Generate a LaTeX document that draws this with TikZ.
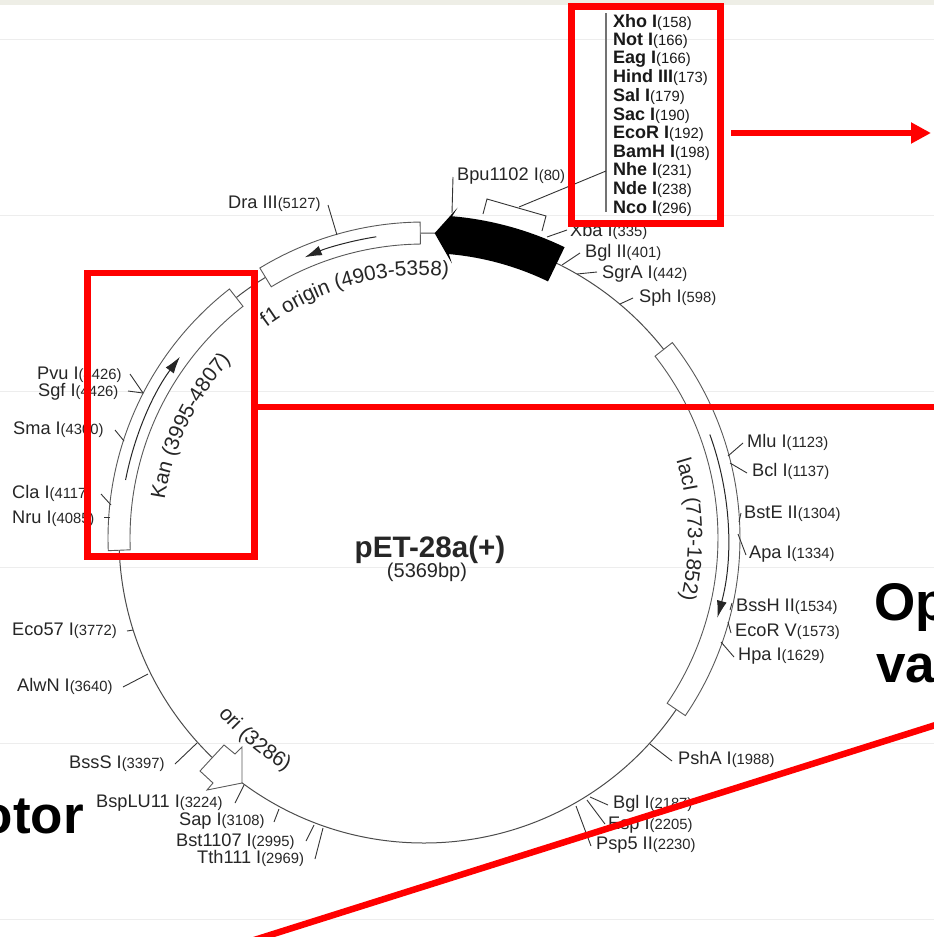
\documentclass[tikz,border=0pt]{standalone}
\usepackage{fontspec}
\setmainfont{Liberation Sans}
\usetikzlibrary{arrows.meta,decorations.text}
\definecolor{pagered}{RGB}{255,0,0}
\definecolor{bandgrey}{RGB}{238,238,230}
\newcommand{\enz}[2]{#1{\mdseries\fontsize{14.8}{15}\selectfont(#2)}}
\newcommand{\arclabel}{\fontsize{20.8}{21}\selectfont}
\begin{document}
\begin{tikzpicture}[x=1pt,y=-1pt,
  every node/.style={inner sep=0pt,text=black!85,font=\fontsize{18.2}{19}\selectfont},
  site/.style={anchor=base west},
  mcs/.style={anchor=base west,text=black!90,font=\fontsize{18}{19}\selectfont\bfseries},
  big/.style={text=black,font=\fontsize{53}{55}\selectfont\bfseries},
  tick/.style={line width=.9pt,black!80},
  feat/.style={line width=.9pt,black!65,fill=white},
  gene/.style={line width=1pt,black!85,-{Latex[length=17pt,width=10pt]}},
  redline/.style={line width=6.5pt,pagered}]
\useasboundingbox (0,0) rectangle (934,937);
\clip (0,0) rectangle (934,937);
\fill[white] (0,0) rectangle (934,937);
\fill[bandgrey] (0,0) rectangle (934,5);
\foreach \yy in {39,215,391,567,743,919} \draw[line width=.5pt,black!7] (0,\yy)--(934,\yy);
\begin{scope}[shift={(424,538)}]
\draw[line width=1pt,black!70] (0,0) circle (305);
\draw[feat] (177.7:294) arc (177.7:232:294)--(232:316) arc (232:177.7:316)--cycle;
\draw[feat] (238.7:294) arc (238.7:269.3:294)--(269.3:316) arc (269.3:238.7:316)--cycle;
\draw[feat] (-38.2:294) arc (-38.2:34.2:294)--(34.2:316) arc (34.2:-38.2:316)--cycle;
\draw[gene] (191:304) arc (191:216.6:304);
\draw[gene] (261:305) arc (261:247:305);
\draw[gene] (-19.9:304) arc (-19.9:15.2:304);
\fill[black] (-64.2:323) arc (-64.2:-85:323)--(-84.2:332)--(-88:305)--(-84.2:276)--(-85:285) arc (-85:-64.2:285)--cycle;
\path[decorate,decoration={text along path,text align=center,text={|\arclabel\color{black!85}|Kan (3995-4807)}}] (189:262) arc (189:222:262);
\path[decorate,decoration={text along path,text align=center,text={|\arclabel\color{black!85}|f1 origin (4903-5358)}}] (233.4:263) arc (233.4:275.2:263);
\path[decorate,decoration={text along path,text align=center,text={|\arclabel\color{black!85}|lacI (773-1852)}}] (-17.8:264) arc (-17.8:14.2:264);
\path[decorate,decoration={text along path,text align=center,text={|\arclabel\color{black!85}|ori (3286)}}] (139.6:271) arc (139.6:120.4:271);
\end{scope}
% ori block
\draw[feat] (211,759)--(224,745)--(235,754)--(242,747)--(242,783)--(207,790)--(213,783)--(200,771)--cycle;
% cloning sites
\coordinate (mcsTop) at (606,13);
\coordinate (mcsBot) at (606,212);
\coordinate (mcsJoin) at (606,171);
\coordinate (brkA) at (483,214);
\coordinate (brkB) at (487,199);
\coordinate (brkC) at (546,216);
\coordinate (brkD) at (542,231);
\coordinate (brkM) at (519,207);
\draw[line width=1.2pt,black!55] (mcsTop)--(mcsBot);
\draw[tick] (brkA)--(brkB)--(brkC)--(brkD);
\draw[tick] (brkM)--(mcsJoin);
\node[mcs] (xho) at (613,27) {\enz{Xho I}{158}};
\node[mcs] (not) at (613,45) {\enz{Not I}{166}};
\node[mcs] (eag) at (613,63.5) {\enz{Eag I}{166}};
\node[mcs] (hind) at (613,82) {\enz{Hind III}{173}};
\node[mcs] (sal) at (613,101) {\enz{Sal I}{179}};
\node[mcs] (sac) at (613,120) {\enz{Sac I}{190}};
\node[mcs] (ecoRI) at (613,138) {\enz{EcoR I}{192}};
\node[mcs] (bamH) at (613,157) {\enz{BamH I}{198}};
\node[mcs] (nhe) at (613,175) {\enz{Nhe I}{231}};
\node[mcs] (nde) at (613,194) {\enz{Nde I}{238}};
\node[mcs] (nco) at (613,213) {\enz{Nco I}{296}};
% single cutters, clockwise
\coordinate (bpuT) at (452,213);\coordinate (bpuE) at (453,177);\draw[tick] (bpuT)--(bpuE);\node[site] (bpu) at (457,180) {\enz{Bpu1102 I}{80}};
\coordinate (xbaT) at (547,237);\coordinate (xbaE) at (567,230);\draw[tick] (xbaT)--(xbaE);\node[site] (xba) at (570,236) {\enz{Xba I}{335}};
\coordinate (bglT) at (562,265);\coordinate (bglE) at (580,253);\draw[tick] (bglT)--(bglE);\node[site] (bgl) at (585,257) {\enz{Bgl II}{401}};
\coordinate (sgrT) at (577,274);\coordinate (sgrE) at (597,272);\draw[tick] (sgrT)--(sgrE);\node[site] (sgr) at (602,278) {\enz{SgrA I}{442}};
\coordinate (sphT) at (620,304);\coordinate (sphE) at (633,298);\draw[tick] (sphT)--(sphE);\node[site] (sph) at (639,302) {\enz{Sph I}{598}};
\coordinate (mluT) at (728,456);\coordinate (mluE) at (743,443);\draw[tick] (mluT)--(mluE);\node[site] (mlu) at (747,447) {\enz{Mlu I}{1123}};
\coordinate (bclT) at (730,463);\coordinate (bclE) at (747,473);\draw[tick] (bclT)--(bclE);\node[site] (bcl) at (752,476) {\enz{Bcl I}{1137}};
\coordinate (bstT) at (739,522);\coordinate (bstE) at (741,513);\draw[tick] (bstT)--(bstE);\node[site] (bst) at (744,518) {\enz{BstE II}{1304}};
\coordinate (apaT) at (738,534);\coordinate (apaE) at (746,555);\draw[tick] (apaT)--(apaE);\node[site] (apa) at (749,558) {\enz{Apa I}{1334}};
\coordinate (bssT) at (730,610);\coordinate (bssE) at (732,603);\draw[tick] (bssT)--(bssE);\node[site] (bss) at (736,611) {\enz{BssH II}{1534}};
\coordinate (ecvT) at (728,622);\coordinate (ecvE) at (731,633);\draw[tick] (ecvT)--(ecvE);\node[site] (ecv) at (735,636) {\enz{EcoR V}{1573}};
\coordinate (hpaT) at (721,642);\coordinate (hpaE) at (734,657);\draw[tick] (hpaT)--(hpaE);\node[site] (hpa) at (738,660) {\enz{Hpa I}{1629}};
\coordinate (pshT) at (650,744);\coordinate (pshE) at (672,761);\draw[tick] (pshT)--(pshE);\node[site] (psh) at (678,764) {\enz{PshA I}{1988}};
\coordinate (bgiT) at (590,797);\coordinate (bgiE) at (608,805);\draw[tick] (bgiT)--(bgiE);\node[site] (bgi) at (613,808) {\enz{Bgl I}{2187}};
\coordinate (espT) at (587,800);\coordinate (espE) at (605,824);\draw[tick] (espT)--(espE);\node[site] (esp) at (608,829) {\enz{Esp I}{2205}};
\coordinate (pspT) at (576,806);\coordinate (pspE) at (591,846);\draw[tick] (pspT)--(pspE);\node[site] (psp) at (596,849) {\enz{Psp5 II}{2230}};
\coordinate (tthT) at (323,828);\coordinate (tthE) at (315,859);\draw[tick] (tthT)--(tthE);\node[site] (tth) at (197,863) {\enz{Tth111 I}{2969}};
\coordinate (b11T) at (314,825);\coordinate (b11E) at (306,841);\draw[tick] (b11T)--(b11E);\node[site] (b11) at (176,846) {\enz{Bst1107 I}{2995}};
\coordinate (sapT) at (279,809);\coordinate (sapE) at (274,822);\draw[tick] (sapT)--(sapE);\node[site] (sap) at (179,825) {\enz{Sap I}{3108}};
\coordinate (luT) at (244,785);\coordinate (luE) at (235,803);\draw[tick] (luT)--(luE);\node[site] (lu) at (96,807) {\enz{BspLU11 I}{3224}};
\coordinate (bsoT) at (197,743);\coordinate (bsoE) at (175,764);\draw[tick] (bsoT)--(bsoE);\node[site] (bso) at (69,768) {\enz{BssS I}{3397}};
\coordinate (alwT) at (148,674);\coordinate (alwE) at (123,687);\draw[tick] (alwT)--(alwE);\node[site] (alw) at (17,691) {\enz{AlwN I}{3640}};
\coordinate (ecoT) at (133,630);\coordinate (ecoE) at (127,631);\draw[tick] (ecoT)--(ecoE);\node[site] (eco) at (12,635) {\enz{Eco57 I}{3772}};
\coordinate (nruT) at (110,517);\coordinate (nruE) at (104,517);\draw[tick] (nruT)--(nruE);\node[site] (nru) at (12,523) {\enz{Nru I}{4085}};
\coordinate (claT) at (111,505);\coordinate (claE) at (101,494);\draw[tick] (claT)--(claE);\node[site] (cla) at (12,498) {\enz{Cla I}{4117}};
\coordinate (smaT) at (124,441);\coordinate (smaE) at (115,430);\draw[tick] (smaT)--(smaE);\node[site] (sma) at (13,434) {\enz{Sma I}{4300}};
\coordinate (sgfT) at (143,393);\coordinate (sgfE) at (128,391);\draw[tick] (sgfT)--(sgfE);\node[site] (sgf) at (38,396) {\enz{Sgf I}{4426}};
\coordinate (pvuT) at (143,393);\coordinate (pvuE) at (130,374);\draw[tick] (pvuT)--(pvuE);\node[site] (pvu) at (37,379) {\enz{Pvu I}{4426}};
\coordinate (draT) at (337,235);\coordinate (draE) at (328,205);\draw[tick] (draT)--(draE);\node[site] (dra) at (228,208) {\enz{Dra III}{5127}};
% middle of the ring
\node[anchor=base,font=\fontsize{29.6}{30}\selectfont\bfseries] (title) at (430,557) {pET-28a(+)};
\node[anchor=base,font=\fontsize{20}{21}\selectfont] (size) at (427,577) {(5369bp)};
% slide text cut by the edges
\node[big,anchor=base west] (op) at (874,620) {Op};
\node[big,anchor=base west] (va) at (876,682) {va};
\node[big,anchor=base east] (otor) at (84,833) {otor};
% red marks on top
\coordinate (redA) at (731,133);
\coordinate (redB) at (931,133);
\coordinate (kanR) at (254.5,406.7);
\coordinate (kanE) at (940,406.7);
\coordinate (diagA) at (240,944.5);
\coordinate (diagB) at (940,723.6);
\draw[redline] (571.5,6.5) rectangle (720.5,223.5);
\draw[redline] (87.5,273) rectangle (254.5,556.5);
\draw[redline,line width=5.5pt,-{Triangle[length=20pt,width=20pt]}] (redA)--(redB);
\draw[redline,line width=6pt] (kanR)--(kanE);
\draw[redline] (diagA)--(diagB);
\end{tikzpicture}
\end{document}
